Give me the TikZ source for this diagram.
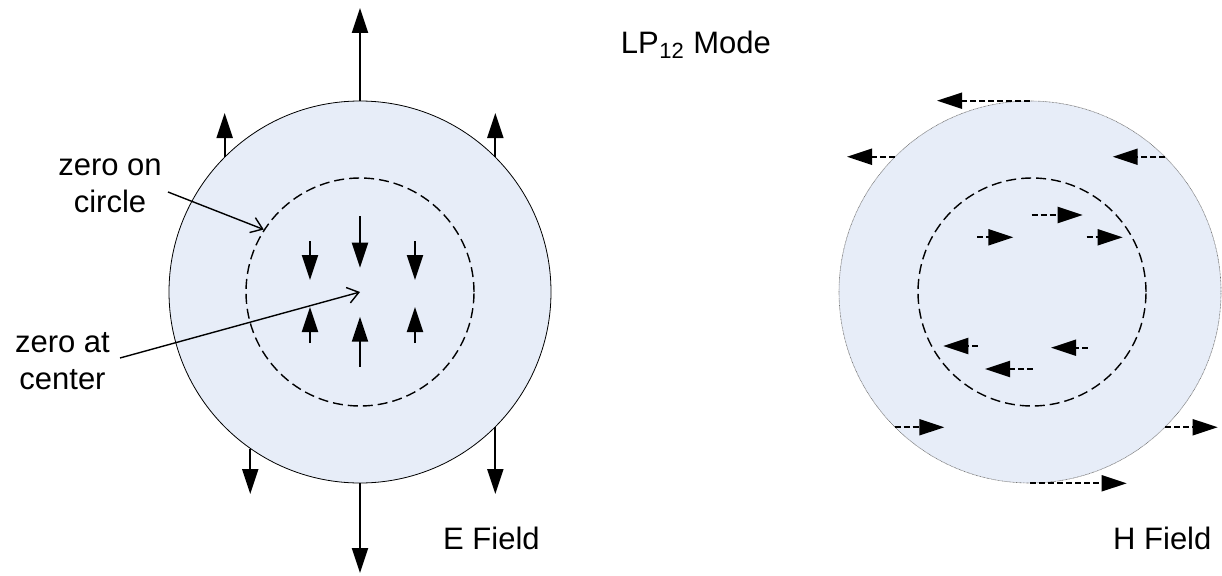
\documentclass[tikz,border=0pt]{standalone}
\usepackage{fontspec}
\setmainfont{Liberation Sans}
\usetikzlibrary{arrows.meta}
\definecolor{corefill}{RGB}{231,237,248}
\begin{document}
\begin{tikzpicture}[x=1pt,y=-1pt,
  efield/.style={line width=2pt,-{Triangle[length=25pt,width=16pt]}},
  hfield/.style={line width=2pt,dash pattern=on 6pt off 3pt,-{Triangle[length=25pt,width=16pt]}},
  note/.style={line width=1.4pt,-{Straight Barb[length=11pt,width=16pt,line width=1.4pt]}},
  lbl/.style={font=\fontsize{31}{37}\selectfont, inner sep=0pt, align=center},
  corecircle/.style={circle,fill=corefill,inner sep=0pt,minimum size=382pt},
  zerocircle/.style={circle,draw,inner sep=0pt,minimum size=228pt,line width=1.4pt,dash pattern=on 10pt off 5pt},
]
\useasboundingbox (0,0) rectangle (1222,575);

% ---------- E field ----------
\node[corecircle,draw,line width=0.8pt] (cE) at (360,292) {};
\node[zerocircle] (cEi) at (360,292) {};

\coordinate (yTop) at (0,8);
\coordinate (yBot) at (0,573);
\coordinate (yUp) at (0,113);
\coordinate (yDn) at (0,494);
\draw[efield] (cE.north) -- (cE.north |- yTop);
\draw[efield] (cE.south) -- (cE.south |- yBot);
\draw[efield] (cE.135) -- (cE.135 |- yUp);
\draw[efield] (cE.45) -- (cE.45 |- yUp);
\draw[efield] (cE.235.6) -- (cE.235.6 |- yDn);
\draw[efield] (cE.-45) -- (cE.-45 |- yDn);

\coordinate (d1s) at (310,241);   \coordinate (d1e) at (310,280);
\coordinate (d2s) at (360,216);   \coordinate (d2e) at (360,267.7);
\coordinate (d3s) at (415,241);   \coordinate (d3e) at (415,280);
\coordinate (u1s) at (310,343);   \coordinate (u1e) at (310,307);
\coordinate (u2s) at (360,366.5); \coordinate (u2e) at (360,316.7);
\coordinate (u3s) at (415,343);   \coordinate (u3e) at (415,307);
\draw[efield] (d1s) -- (d1e);
\draw[efield] (d2s) -- (d2e);
\draw[efield] (d3s) -- (d3e);
\draw[efield] (u1s) -- (u1e);
\draw[efield] (u2s) -- (u2e);
\draw[efield] (u3s) -- (u3e);

\node[lbl,anchor=base] (zoc) at (110,212) {zero on\\circle};
\node[lbl,anchor=base] (zac) at (62.5,389) {zero at\\center};
\coordinate (zocs) at (168,192);
\coordinate (zacs) at (120,358);
\draw[note] (zocs) -- (cEi.147);
\draw[note] (zacs) -- (cE.center);

\node[lbl,anchor=base west] (ef) at (443,549) {E Field};
\node[lbl,anchor=base west] (lp) at (620.7,53.3) {LP\kern0.5pt\raisebox{-5pt}{\fontsize{22}{22}\selectfont 12}\kern1pt{} Mode};

% ---------- H field ----------
\node[corecircle,draw=black!55,line width=0.6pt,dash pattern=on 0.8pt off 0.6pt] (cH) at (1030,292) {};
\node[zerocircle] (cHi) at (1032,292) {};

\coordinate (x1) at (937,0);
\coordinate (x2) at (847,0);
\coordinate (x3) at (1112.7,0);
\coordinate (x10) at (944.3,0);
\coordinate (x11) at (1217.7,0);
\coordinate (x12) at (1126.7,0);
\draw[hfield] (cH.north) -- (cH.north -| x1);
\draw[hfield] (cH.135) -- (cH.135 -| x2);
\draw[hfield] (cH.45) -- (cH.45 -| x3);
\draw[hfield] (cH.225) -- (cH.225 -| x10);
\draw[hfield] (cH.-45) -- (cH.-45 -| x11);
\draw[hfield] (cH.south) -- (cH.south -| x12);

\coordinate (h4s) at (1031.7,215);   \coordinate (h4e) at (1082.7,215);
\coordinate (h5s) at (977.3,237.3);  \coordinate (h5e) at (1013.3,237.3);
\coordinate (h6s) at (1086.7,237.3); \coordinate (h6e) at (1122.7,237.3);
\coordinate (h7s) at (977.7,346);    \coordinate (h7e) at (943.3,346);
\coordinate (h8s) at (1087.7,347.7); \coordinate (h8e) at (1051,347.7);
\coordinate (h9s) at (1032.7,369);   \coordinate (h9e) at (985,369);
\draw[hfield] (h4s) -- (h4e);
\draw[hfield] (h5s) -- (h5e);
\draw[hfield] (h6s) -- (h6e);
\draw[hfield] (h7s) -- (h7e);
\draw[hfield] (h8s) -- (h8e);
\draw[hfield] (h9s) -- (h9e);

\node[lbl,anchor=base west] (hf) at (1113,549) {H Field};
\end{tikzpicture}
\end{document}
